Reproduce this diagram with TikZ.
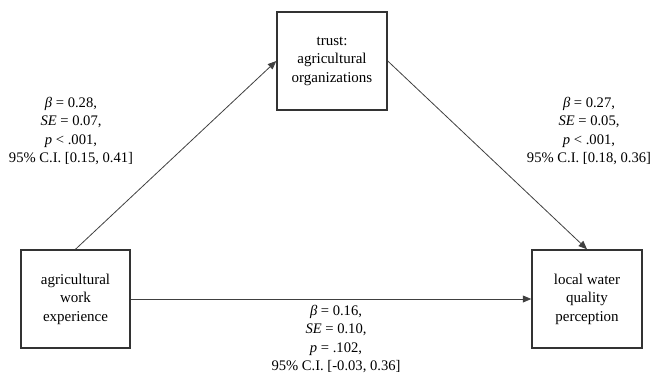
\documentclass[tikz,border=0pt]{standalone}
\usepackage{fontspec}
\setmainfont{Liberation Serif}
\usetikzlibrary{arrows.meta}
\begin{document}
\begin{tikzpicture}[x=1bp,y=-1bp,
  box/.style={draw=black!80,line width=1.5bp,minimum width=110bp,minimum height=98bp,inner sep=0pt,align=center,font=\fontsize{15bp}{18.4bp}\selectfont},
  lab/.style={align=center,inner sep=0pt,font=\fontsize{14.6bp}{18.2bp}\selectfont},
  conn/.style={draw=black!75,line width=0.8bp,-{Triangle[length=8.5bp,width=7bp]}}]
\useasboundingbox (0,0) rectangle (654,384);
\node[box] (T) at (332,61) {trust:\\agricultural\\organizations};
\node[box,minimum width=109bp] (L) at (75.5,299) {agricultural\\work\\experience};
\node[box] (R) at (587,299) {local water\\quality\\perception};
\draw[conn] (L.north) -- (T.west);
\draw[conn] (T.east) -- (R.north);
\draw[conn] (L.east) -- (R.west);
\node[lab] (la) at (71,131) {\textit{β} = 0.28,\\\textit{SE} = 0.07,\\\textit{p} < .001,\\95\% C.I. [0.15, 0.41]};
\node[lab] (ra) at (589,131) {\textit{β} = 0.27,\\\textit{SE} = 0.05,\\\textit{p} < .001,\\95\% C.I. [0.18, 0.36]};
\node[lab] (ba) at (336,339) {\textit{β} = 0.16,\\\textit{SE} = 0.10,\\\textit{p} = .102,\\95\% C.I. [-0.03, 0.36]};
\end{tikzpicture}
\end{document}
